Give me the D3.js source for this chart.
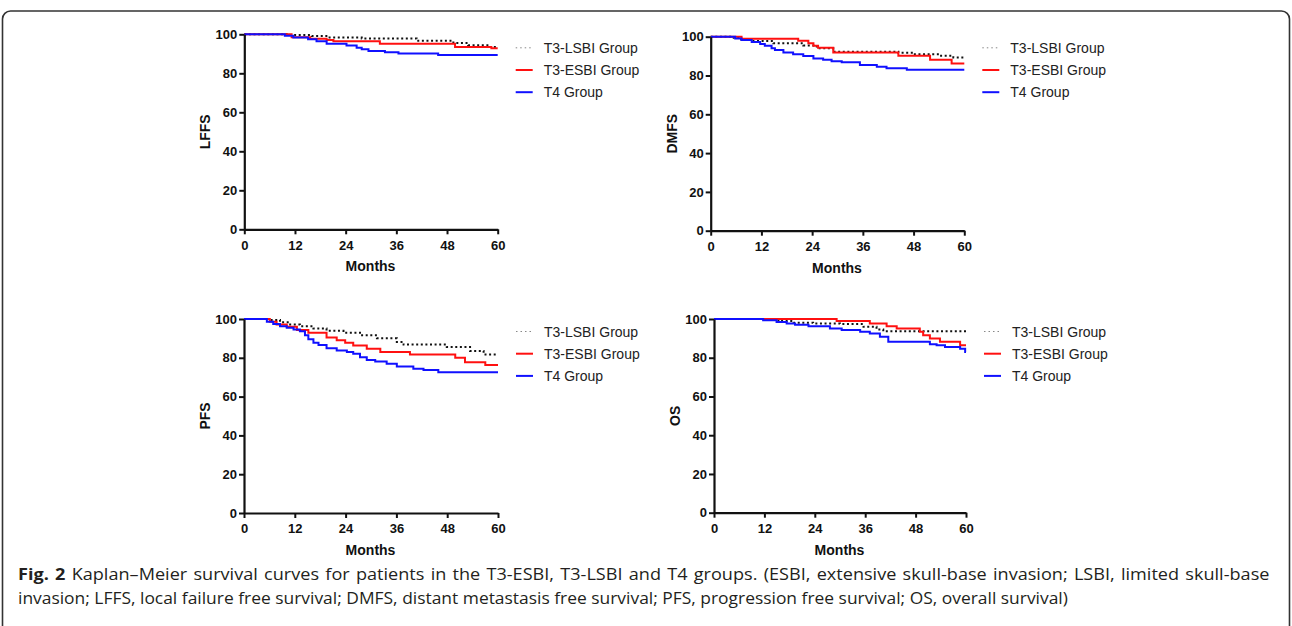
<!DOCTYPE html>
<html>
<head>
<meta charset="utf-8">
<script src="https://cdn.jsdelivr.net/npm/d3@7"></script>
<style>
body { margin: 0; background: #fff; }
svg { display: block; }
</style>
</head>
<body>
<svg id="chart" width="1292" height="626"></svg>
<script>
// axis ticks and labels
const monthTicks = [0, 12, 24, 36, 48, 60]
const pctTicks = [0, 20, 40, 60, 80, 100]
const groupNames = ["T3-LSBI Group", "T3-ESBI Group", "T4 Group"]
const panelTitles = ["LFFS", "DMFS", "PFS", "OS"]

// Kaplan-Meier steps: [month, percent]
const lffsLSBI = [[0,100],[10.8,99.6],[16,99.1],[19.9,98.4],[27.8,97.9],[40.8,96.7],[49.5,95.5],[53,94.4],[58.2,93.5],[60,93.5]]
const lffsESBI = [[0,100],[11.2,98.5],[15.6,97.7],[19.5,97.1],[21.1,96.4],[32.1,95.2],[49.9,93.5],[58.5,92.9],[60,92.9]]
const lffsT4 = [[0,100],[9.6,99.3],[11.6,98.3],[15.1,97.4],[17.1,96.4],[19.5,95.2],[24.2,94.2],[26.6,93.1],[27.8,92.3],[29.4,91.4],[33.3,90.8],[36.5,90.1],[45.9,89.4],[60,89.4]]

const dmfsLSBI = [[0,100],[4.6,99.5],[6.9,98.6],[9.3,97.8],[14.8,96.6],[21.9,95.5],[25.1,94.0],[29,92.2],[44.4,91.7],[47.9,90.9],[54.2,90.2],[57.4,89.3],[60,89.3]]
const dmfsESBI = [[0,100],[7.3,99.0],[20.7,97.9],[23.1,96.6],[24.3,95.3],[25.4,94.3],[29,91.9],[44.4,90.2],[51.9,88.1],[57,86.2],[60,86.2]]
const dmfsT4 = [[0,100],[5.8,99.1],[7.3,98.3],[9.7,97.3],[11.7,96.2],[12.8,95.3],[14.4,94.0],[15.2,93.1],[17.2,91.9],[19.5,90.9],[21.9,90.0],[24.3,88.8],[26.6,88.1],[28.6,87.4],[31,86.8],[35.3,85.4],[39.3,84.5],[41.6,83.8],[46.4,82.9],[60,82.9]]

const pfsLSBI = [[0,100],[5.8,99.5],[8.5,98.3],[10.9,97.2],[13.2,96.3],[16.4,95.1],[19.5,93.9],[23.5,92.9],[27.4,91.6],[31.4,90.1],[36.1,88.2],[37.7,86.8],[47.9,85.6],[53.4,83.5],[56.6,81.7],[60,81.7]]
const pfsESBI = [[0,100],[6.1,98.6],[7.7,97.2],[10.1,96.0],[12.5,94.3],[15.2,92.9],[19.5,90.4],[21.9,89.0],[23.9,87.8],[25.8,86.4],[29,84.7],[32.2,83.0],[39.2,81.7],[49.9,80.0],[52.2,77.7],[57,76.3],[60,76.3]]
const pfsT4 = [[0,100],[5.4,98.6],[6.9,97.4],[8.5,96.3],[10.1,95.5],[11.7,94.6],[13.2,93.7],[14.4,91.6],[15.2,89.6],[16.4,87.8],[17.6,86.6],[19.5,84.9],[21.9,83.8],[24.3,83.0],[25.8,82.1],[27.4,80.3],[29,78.9],[31,78.1],[33.7,76.9],[36.1,75.5],[40,74.4],[42.4,73.7],[45.9,72.5],[60,72.5]]

const osLSBI = [[0,100],[13.3,99.5],[15.7,99.0],[18.9,98.1],[23.6,97.7],[30,97.4],[35.6,96.0],[38.7,94.6],[40.3,93.7],[60,93.7]]
const osESBI = [[0,100],[29.2,99.0],[37.1,97.7],[41.1,96.3],[43.5,95.1],[49,93.4],[49.8,91.6],[51.4,89.9],[53.8,88.2],[58.6,86.4],[60,86.4]]
const osT4 = [[0,100],[11.7,99.3],[14.9,98.4],[17.3,97.7],[19.3,97.0],[22.5,96.3],[27.6,95.1],[30.4,94.3],[34.8,93.4],[37.1,92.5],[39.5,90.8],[41.5,88.2],[51.4,87.0],[53,86.4],[55,85.6],[58.6,84.7],[59.8,82.9],[60,82.9]]

const captionBold = "Fig. 2"
const captionLine1 = " Kaplan\u2013Meier survival curves for patients in the T3-ESBI, T3-LSBI and T4 groups. (ESBI, extensive skull-base invasion; LSBI, limited skull-base"
const captionLine2 = "invasion; LFFS, local failure free survival; DMFS, distant metastasis free survival; PFS, progression free survival; OS, overall survival)"

// where each panel sits on the page (pixels)
const panels = [
    { series: [lffsLSBI, lffsESBI, lffsT4], left: 244.3, right: 497.7, top: 34.3, bottom: 229.3, legendY: 47.8 },
    { series: [dmfsLSBI, dmfsESBI, dmfsT4], left: 710.7, right: 964.3, top: 36.7, bottom: 230.7, legendY: 47.8 },
    { series: [pfsLSBI, pfsESBI, pfsT4], left: 244, right: 498, top: 319, bottom: 513, legendY: 331.5 },
    { series: [osLSBI, osESBI, osT4], left: 714, right: 966, top: 319, bottom: 512.7, legendY: 331.5 }
]

const lineStyles = [
    { color: "#111", dash: "2,2.6", width: 2 },
    { color: "#ff1010", dash: null, width: 2 },
    { color: "#1010ff", dash: null, width: 2 }
]

const chartFont = "'Liberation Sans', Arial, sans-serif"
const svg = d3.select("#chart")

// outer frame with rounded corners
svg.append("rect")
    .attr("x", 2.5).attr("y", 11).attr("width", 1287).attr("height", 640)
    .attr("rx", 8).attr("fill", "none")
    .attr("stroke", "#333").attr("stroke-width", 1.6)

panels.forEach((p, i) => {
    const x = d3.scaleLinear().domain([0, 60]).range([p.left, p.right])
    const y = d3.scaleLinear().domain([0, 100]).range([p.bottom, p.top])
    const g = svg.append("g")

    const line = d3.line()
        .x(d => x(d[0]))
        .y(d => y(d[1]))
        .curve(d3.curveStepAfter)

    // dotted first, blue on top like the original
    p.series.forEach((s, k) => {
        const st = lineStyles[k]
        g.append("path")
            .datum(s)
            .attr("d", line)
            .attr("fill", "none")
            .attr("stroke", st.color)
            .attr("stroke-width", st.width)
            .attr("stroke-dasharray", st.dash)
    })

    const yAxis = g.append("g")
        .attr("transform", `translate(${p.left},0)`)
        .call(d3.axisLeft(y).tickValues(pctTicks).tickSize(5).tickSizeOuter(0).tickPadding(2))
    const xAxis = g.append("g")
        .attr("transform", `translate(0,${p.bottom})`)
        .call(d3.axisBottom(x).tickValues(monthTicks).tickSize(5).tickSizeOuter(0).tickPadding(6))

    ;[xAxis, yAxis].forEach(a => {
        a.select(".domain").attr("stroke", "#111").attr("stroke-width", 2.2)
        a.selectAll(".tick line").attr("stroke", "#111").attr("stroke-width", 2)
        a.selectAll(".tick text")
            .attr("fill", "#111")
            .style("font", `bold 13px ${chartFont}`)
    })

    // axis titles
    g.append("text")
        .attr("x", (p.left + p.right) / 2 - 0.5)
        .attr("y", p.bottom + 42)
        .attr("text-anchor", "middle")
        .style("font", `bold 14px ${chartFont}`)
        .attr("fill", "#111")
        .text("Months")

    g.append("text")
        .attr("transform", `translate(${p.left - 34},${(p.top + p.bottom) / 2}) rotate(-90)`)
        .attr("text-anchor", "middle")
        .style("font", `bold 14px ${chartFont}`)
        .attr("fill", "#111")
        .text(panelTitles[i])

    // legend
    const lx = p.right + 18
    groupNames.forEach((name, k) => {
        const ly = p.legendY + k * 22.2
        const st = lineStyles[k]
        g.append("line")
            .attr("x1", lx).attr("x2", lx + 17)
            .attr("y1", ly).attr("y2", ly)
            .attr("stroke", k === 0 ? "#888" : st.color)
            .attr("stroke-width", k === 0 ? 1 : 2)
            .attr("stroke-dasharray", k === 0 ? "1.5,3" : null)
        g.append("text")
            .attr("x", lx + 28)
            .attr("y", ly + 5)
            .style("font", `14px ${chartFont}`)
            .attr("fill", "#222")
            .text(name)
    })
})

// caption: last line at natural width, first line justified to the frame
const capFont = "'Open Sans', 'Noto Sans', sans-serif"
const capLeft = 18
const cap2 = svg.append("text")
    .attr("x", capLeft).attr("y", 604)
    .style("font", `16px ${capFont}`)
    .attr("fill", "#231f20")
    .text(captionLine2)
const w2 = cap2.node().getComputedTextLength()
const squeeze = 1050 / w2
cap2.attr("transform", `translate(${capLeft},0) scale(${squeeze},1) translate(${-capLeft},0)`)

const cap1 = svg.append("text")
    .attr("x", capLeft).attr("y", 580)
    .style("font", `16px ${capFont}`)
    .attr("fill", "#231f20")
cap1.append("tspan").style("font-weight", "bold").text(captionBold)
cap1.append("tspan").text(captionLine1)
const w1 = cap1.node().getComputedTextLength()
const squeeze1 = Math.min(squeeze * 1.04, 1252 / w1)
const spaces = (captionBold + captionLine1).split(" ").length - 1
const extra = (1252 / squeeze1 - w1) / spaces
cap1.style("word-spacing", `${extra}px`)
    .attr("transform", `translate(${capLeft},0) scale(${squeeze1},1) translate(${-capLeft},0)`)
</script>
</body>
</html>
